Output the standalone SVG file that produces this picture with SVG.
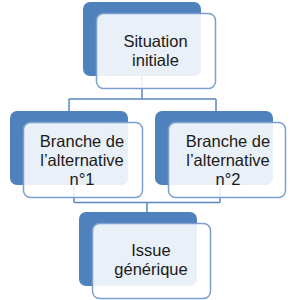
<svg xmlns="http://www.w3.org/2000/svg" width="298" height="300" viewBox="0 0 298 300">
<style>
.back{fill:#4F81BD;}
.front{fill:#FFFFFF;fill-opacity:0.88;stroke:#7BA0D0;stroke-width:1.5;}
.lbl{font-family:"Liberation Sans",Arial,sans-serif;font-size:16.5px;fill:#1a1a1a;text-anchor:middle;}
.conn{fill:none;stroke:#5B87C0;stroke-width:1.5;}
</style>
<rect width="298" height="300" fill="#FFFFFF"/>
<g id="connectors">
<path class="conn" d="M142 76 V99 M69 99 H216 M69 99 V112 M216 99 V112"/>
<path class="conn" d="M74 186 V202.5 M220 186 V202.5 M74 202.5 H220 M147 202.5 V213"/>
</g>
<g id="node-situation">
<rect class="back" x="83" y="2" width="118" height="74" rx="7"/>
<rect class="front" x="96.5" y="13.5" width="119" height="75" rx="7"/>
<text class="lbl"><tspan x="155.5" y="47">Situation</tspan><tspan x="155.5" y="65.7">initiale</tspan></text>
</g>
<g id="node-branche1">
<rect class="back" x="10" y="111" width="118" height="74" rx="7"/>
<rect class="front" x="23.5" y="122.5" width="119" height="75" rx="7"/>
<text class="lbl"><tspan x="82" y="147">Branche de</tspan><tspan x="82" y="166">l’alternative</tspan><tspan x="82" y="185">n°1</tspan></text>
</g>
<g id="node-branche2">
<rect class="back" x="155" y="111" width="118" height="74" rx="7"/>
<rect class="front" x="168.5" y="122.5" width="117" height="75" rx="7"/>
<text class="lbl"><tspan x="228" y="147">Branche de</tspan><tspan x="228" y="166">l’alternative</tspan><tspan x="228" y="185">n°2</tspan></text>
</g>
<g id="node-issue">
<rect class="back" x="79" y="212" width="118" height="74" rx="7"/>
<rect class="front" x="92.5" y="223.5" width="118" height="75" rx="7"/>
<text class="lbl"><tspan x="151" y="256">Issue</tspan><tspan x="151" y="274.7">générique</tspan></text>
</g>
</svg>
